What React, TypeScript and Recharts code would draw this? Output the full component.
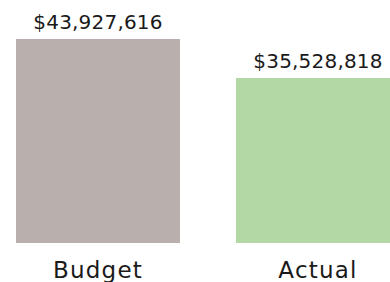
import { BarChart, Bar, XAxis, YAxis, Cell, LabelList } from "recharts";

const categories = ["Budget", "Actual"];
const amounts = [43927616, 35528818];

const barColors = ["#b9b0ae", "#b3d8a6"];
const FONT = "'DejaVu Sans', sans-serif";

const data = categories.map((name, i) => ({ name, amount: amounts[i] }));

const money = (v: unknown) => "$" + Number(v).toLocaleString("en-US");

function CategoryTick(props: any) {
  const { x, y, payload } = props;
  return (
    <text x={x} y={y + 27} textAnchor="middle" fill="#1a1a1a" fontSize={23} fontFamily={FONT} letterSpacing={1.2}>
      {payload.value}
    </text>
  );
}

export default function App() {
  return (
    <div style={{ position: "absolute", left: 0, top: 0, width: 390, height: 282, overflow: "hidden", background: "#fff" }}>
      <div style={{ position: "absolute", left: -12, top: 0 }}>
        <BarChart width={440} height={282} data={data} margin={{ top: 39, right: 0, left: 0, bottom: 0 }}>
          <XAxis dataKey="name" axisLine={false} tickLine={false} height={39} tick={<CategoryTick />} interval={0} />
          <YAxis hide domain={[0, "dataMax"]} />
          <Bar dataKey="amount" barSize={164} isAnimationActive={false}>
            {data.map((d, i) => (
              <Cell key={d.name} fill={barColors[i]} />
            ))}
            <LabelList
              dataKey="amount"
              position="top"
              offset={10}
              formatter={money}
              fill="#1a1a1a"
              fontSize={20}
              fontFamily={FONT}
              letterSpacing={0.2}
            />
          </Bar>
        </BarChart>
      </div>
    </div>
  );
}
